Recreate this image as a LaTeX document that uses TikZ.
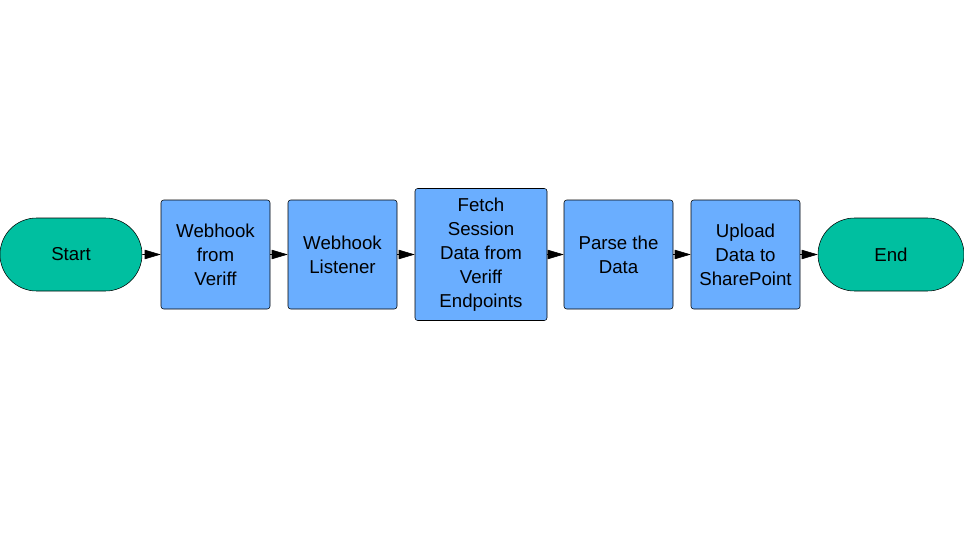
\documentclass[tikz,border=0pt]{standalone}
\usepackage{fontspec}
\setmainfont{Liberation Sans}
\usetikzlibrary{shapes.misc,arrows.meta}
\definecolor{tgreen}{HTML}{00BFA0}
\definecolor{tblue}{HTML}{6AAEFF}
\begin{document}
\begin{tikzpicture}[x=0.75pt,y=-0.75pt,
  term/.style={rounded rectangle,draw=black,fill=tgreen,minimum width=142*0.75pt,minimum height=73*0.75pt,font=\fontsize{14}{17}\selectfont,inner sep=0pt},
  box/.style={draw=black,fill=tblue,rounded corners=2pt,align=center,font=\fontsize{14}{18}\selectfont,inner sep=0pt,minimum width=109*0.75pt,minimum height=109*0.75pt},
  arr/.style={draw=black,-{Triangle[length=12pt,width=7pt]},thin}]
\useasboundingbox (0,0) rectangle (964,542);
\node[term] (s) at (71,254.5) {Start};
\node[box] (b1) at (215.5,254.5) {Webhook\\from\\Veriff};
\node[box] (b2) at (342.5,254.5) {Webhook\\Listener};
\node[box,minimum width=132*0.75pt,minimum height=132*0.75pt] (b3) at (481,254.5) {Fetch\\Session\\Data from\\Veriff\\Endpoints};
\node[box] (b4) at (618.5,254.5) {Parse the\\Data};
\node[box] (b5) at (745.5,254.5) {Upload\\Data to\\SharePoint};
\node[term,minimum width=146*0.75pt] (e) at (891,254.5) {End};
\draw[arr] (s) -- (b1);
\draw[arr] (b1) -- (b2);
\draw[arr] (b2) -- (b3);
\draw[arr] (b3) -- (b4);
\draw[arr] (b4) -- (b5);
\draw[arr] (b5) -- (e);
\end{tikzpicture}
\end{document}
